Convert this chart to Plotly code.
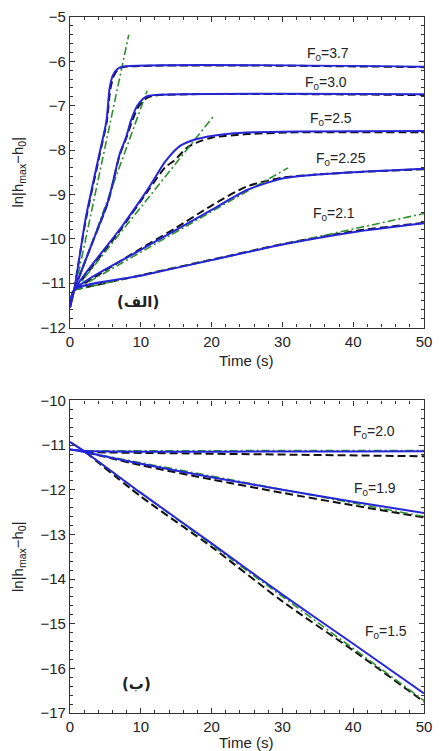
import plotly.graph_objects as go

# ---------------- top panel data (الف) ----------------
t37_b = [0, 0.6, 2.2, 4.2, 5.15, 5.6, 6.1, 6.7, 7.4, 50]
y37_b = [-11.55, -11.15, -9.55, -8.05, -7.34, -6.6, -6.3, -6.17, -6.12, -6.12]
t37_k = [0.6, 2.2, 4.2, 5.2, 5.7, 6.2, 6.8, 7.5, 50]
y37_k = [-11.15, -9.6, -8.1, -7.35, -6.62, -6.32, -6.18, -6.13, -6.13]
t37_g = [0.7, 8.3]
y37_g = [-11.15, -5.4]

t30_b = [0, 0.6, 3.0, 5.4, 7.0, 7.9, 8.6, 9.5, 10.7, 12.0, 50]
y30_b = [-11.55, -11.15, -10.15, -9.14, -8.1, -7.72, -7.34, -7.0, -6.8, -6.76, -6.74]
t30_k = [0.6, 3.0, 5.4, 7.0, 7.9, 8.7, 9.6, 10.8, 12.0, 50]
y30_k = [-11.15, -10.15, -9.16, -8.12, -7.75, -7.38, -7.04, -6.83, -6.77, -6.76]
t30_g = [0.7, 10.9]
y30_g = [-11.15, -6.66]

t25_b = [0, 0.6, 7.2, 11.0, 13.5, 15.6, 17.9, 20.0, 22.5, 26.0, 31.8, 50]
y25_b = [-11.55, -11.15, -9.75, -8.88, -8.25, -7.9, -7.75, -7.68, -7.63, -7.6, -7.58, -7.57]
t25_k = [0.6, 7.2, 11.0, 13.5, 14.7, 16.5, 17.9, 20.0, 25.0, 32.0, 50]
y25_k = [-11.15, -9.78, -8.92, -8.38, -8.24, -7.95, -7.83, -7.72, -7.64, -7.6, -7.6]
t25_g = [0.7, 20.3]
y25_g = [-11.15, -7.23]

t225_b = [0, 0.6, 10, 15, 20, 25, 30, 35, 40, 45, 50]
y225_b = [-11.55, -11.15, -10.25, -9.8, -9.35, -8.9, -8.64, -8.55, -8.5, -8.46, -8.42]
t225_k = [0.6, 10, 15, 20, 25, 30, 35, 40, 50]
y225_k = [-11.15, -10.22, -9.75, -9.25, -8.82, -8.62, -8.55, -8.5, -8.43]
t225_g = [0.7, 30.8]
y225_g = [-11.15, -8.4]

t21_b = [0, 0.6, 10, 20, 30, 40, 50]
y21_b = [-11.55, -11.15, -10.83, -10.48, -10.13, -9.85, -9.65]
t21_k = [0.6, 10, 20, 30, 40, 50]
y21_k = [-11.15, -10.82, -10.47, -10.12, -9.83, -9.64]
t21_g = [0.7, 50]
y21_g = [-11.15, -9.43]

# ---------------- bottom panel data (ب) ----------------
t20_b = [0, 2.2, 50]
y20_b = [-11.1, -11.13, -11.14]
t20_k = [2.2, 50]
y20_k = [-11.16, -11.25]
t20_g = [2.2, 50]
y20_g = [-11.13, -11.12]

t19_b = [0, 2.2, 10, 20, 30, 40, 50]
y19_b = [-11.1, -11.16, -11.42, -11.72, -12.0, -12.27, -12.52]
t19_k = [2.2, 10, 20, 30, 40, 50]
y19_k = [-11.16, -11.45, -11.77, -12.07, -12.35, -12.62]
t19_g = [2.2, 50]
y19_g = [-11.16, -12.6]

t15_b = [0, 2.2, 10, 20, 30, 40, 50]
y15_b = [-10.93, -11.16, -12.07, -13.2, -14.35, -15.45, -16.56]
t15_k = [2.2, 10, 20, 30, 40, 50]
y15_k = [-11.16, -12.15, -13.28, -14.5, -15.6, -16.75]
t15_g = [2.2, 50]
y15_g = [-11.16, -16.72]

top_labels = ["F<sub>0</sub>=3.7", "F<sub>0</sub>=3.0", "F<sub>0</sub>=2.5",
              "F<sub>0</sub>=2.25", "F<sub>0</sub>=2.1"]
top_label_x = [36.4, 36.2, 36.9, 38.3, 37.3]
top_label_y = [-5.83, -6.48, -7.3, -8.2, -9.44]
bot_labels = ["F<sub>0</sub>=2.0", "F<sub>0</sub>=1.9", "F<sub>0</sub>=1.5"]
bot_label_x = [42.9, 43.1, 44.7]
bot_label_y = [-10.71, -11.98, -15.18]

x_ticks = [0, 10, 20, 30, 40, 50]
top_y_ticks = [-12, -11, -10, -9, -8, -7, -6, -5]
bot_y_ticks = [-17, -16, -15, -14, -13, -12, -11, -10]

BLUE = "#2626d6"
BLACK = "#111111"
GREEN = "#2f8f2f"

fig = go.Figure()

top_sets = [
    (t37_b, y37_b, t37_k, y37_k, t37_g, y37_g),
    (t30_b, y30_b, t30_k, y30_k, t30_g, y30_g),
    (t25_b, y25_b, t25_k, y25_k, t25_g, y25_g),
    (t225_b, y225_b, t225_k, y225_k, t225_g, y225_g),
    (t21_b, y21_b, t21_k, y21_k, t21_g, y21_g),
]
bot_sets = [
    (t20_b, y20_b, t20_k, y20_k, t20_g, y20_g),
    (t19_b, y19_b, t19_k, y19_k, t19_g, y19_g),
    (t15_b, y15_b, t15_k, y15_k, t15_g, y15_g),
]


def add_sets(sets, xa, ya):
    for tb, yb, tk, yk, tg, yg in sets:
        fig.add_trace(go.Scatter(x=tk, y=yk, mode="lines", xaxis=xa, yaxis=ya,
                                 line=dict(color=BLACK, width=2, dash="8px,4px",
                                           shape="spline", smoothing=0.7),
                                 showlegend=False, hoverinfo="skip"))
        fig.add_trace(go.Scatter(x=tg, y=yg, mode="lines", xaxis=xa, yaxis=ya,
                                 line=dict(color=GREEN, width=1.6, dash="8px,3px,2px,3px"),
                                 showlegend=False, hoverinfo="skip"))
    for tb, yb, tk, yk, tg, yg in sets:
        fig.add_trace(go.Scatter(x=tb, y=yb, mode="lines", xaxis=xa, yaxis=ya,
                                 line=dict(color=BLUE, width=2, shape="spline", smoothing=0.7),
                                 showlegend=False, hoverinfo="skip"))


add_sets(top_sets, "x", "y")
add_sets(bot_sets, "x2", "y2")

FONT = "Liberation Sans, Arial, sans-serif"

annotations = []
for txt, xx, yy in zip(top_labels, top_label_x, top_label_y):
    annotations.append(dict(text=txt, x=xx, y=yy, xref="x", yref="y", showarrow=False,
                            font=dict(size=14, color="#222", family=FONT)))
for txt, xx, yy in zip(bot_labels, bot_label_x, bot_label_y):
    annotations.append(dict(text=txt, x=xx, y=yy, xref="x2", yref="y2", showarrow=False,
                            font=dict(size=14, color="#222", family=FONT)))
annotations.append(dict(text="<b>(الف)</b>", x=9.6, y=-11.43, xref="x", yref="y", showarrow=False,
                        font=dict(size=15, color="#222", family="DejaVu Sans")))
annotations.append(dict(text="<b>(ب)</b>", x=9.4, y=-16.34, xref="x2", yref="y2", showarrow=False,
                        font=dict(size=15, color="#222", family="DejaVu Sans")))
ytitle = "ln|h<sub>max</sub>−h<sub>0</sub>|"
annotations.append(dict(text=ytitle, x=-0.146, y=(1 + 0.5538) / 2, xref="paper", yref="paper",
                        textangle=-90, showarrow=False, xanchor="center", yanchor="middle",
                        font=dict(size=15, color="#222", family=FONT)))
annotations.append(dict(text=ytitle, x=-0.146, y=0.4491 / 2, xref="paper", yref="paper",
                        textangle=-90, showarrow=False, xanchor="center", yanchor="middle",
                        font=dict(size=15, color="#222", family=FONT)))
annotations.append(dict(text="Time (s)", x=0.497, y=0.5538, xref="paper", yref="paper",
                        yshift=-33, showarrow=False, xanchor="center", yanchor="middle",
                        font=dict(size=15, color="#222", family=FONT)))
annotations.append(dict(text="Time (s)", x=0.497, y=0.0, xref="paper", yref="paper",
                        yshift=-29, showarrow=False, xanchor="center", yanchor="middle",
                        font=dict(size=15, color="#222", family=FONT)))

axis_common = dict(showline=True, linecolor="#333", linewidth=1.2, mirror="ticks",
                   ticks="inside", ticklen=5, tickwidth=1, tickcolor="#333",
                   showgrid=False, zeroline=False, ticklabeloverflow="allow",
                   tickfont=dict(size=15, color="#222", family=FONT))

fig.update_layout(
    width=440, height=751,
    margin=dict(l=70, r=8, t=16, b=38),
    paper_bgcolor="white", plot_bgcolor="white",
    xaxis=dict(domain=[0, 1], anchor="y", range=[0, 50], tickvals=x_ticks,
               minor=dict(dtick=2, ticks="inside", ticklen=3, tickcolor="#333"), **axis_common),
    yaxis=dict(domain=[0.5538, 1], anchor="x", range=[-12, -5], tickvals=top_y_ticks,
               minor=dict(dtick=0.2, ticks="inside", ticklen=3, tickcolor="#333"), **axis_common),
    xaxis2=dict(domain=[0, 1], anchor="y2", range=[0, 50], tickvals=x_ticks,
                minor=dict(dtick=2, ticks="inside", ticklen=3, tickcolor="#333"), **axis_common),
    yaxis2=dict(domain=[0, 0.4491], anchor="x2", range=[-17, -10], tickvals=bot_y_ticks,
                minor=dict(dtick=0.2, ticks="inside", ticklen=3, tickcolor="#333"), **axis_common),
    annotations=annotations,
)

fig.write_html("out.html")
